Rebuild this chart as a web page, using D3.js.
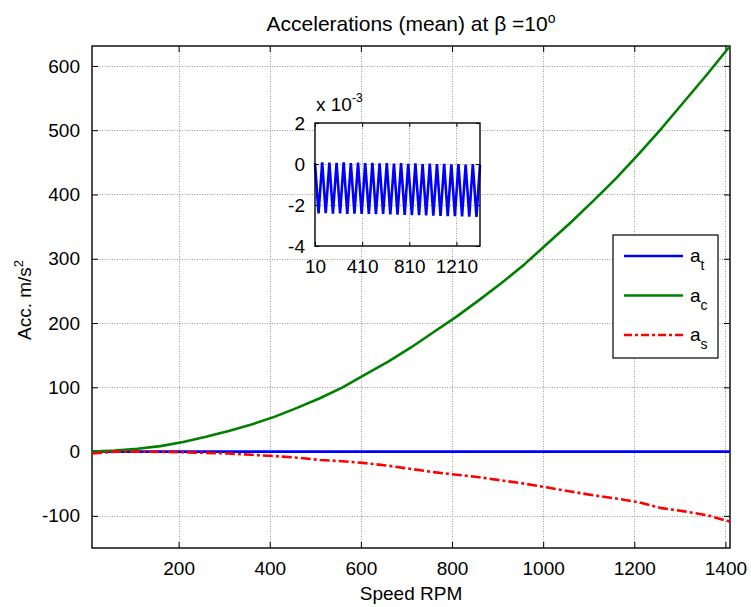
<!DOCTYPE html>
<html><head><meta charset="utf-8">
<script src="https://cdn.jsdelivr.net/npm/d3@7"></script>
<style>
html,body{margin:0;padding:0;background:#fff;}
text{font-family:"Liberation Sans",Arial,Helvetica,sans-serif;fill:#000;}
</style></head>
<body>
<svg id="chart" width="751" height="607"></svg>
<script>
// ---- data ----
const rpm = [10,60,110,160,210,260,310,360,410,460,510,560,610,660,710,760,810,860,910,960,1010,1060,1110,1160,1210,1260,1310,1360,1410];
const aC = [0,1.5,4.5,8.5,15,23,32,42,54,68,83,100,120,140,162,186,210,236,263,292,324,356,390,425,463,503,545,587,631];
const aS = [-3,0,0,-0.5,-1,-2,-3,-5,-7,-9.5,-13,-15,-18,-22,-27,-32,-36,-40,-45,-50,-56,-62,-68,-73,-79,-88,-93,-99,-109];
const insetRpm = [10,40,71,101,132,162,193,223,253,284,314,345,375,406,436,467,497,527,558,588,619,649,680,710,740,771,801,832,862,893,923,953,984,1014,1045,1075,1106,1136,1167,1197,1227,1258,1288,1319,1349,1380,1410];
const aT = [0.00005,-0.00241,0.00008,-0.00240,0.00007,-0.00242,0.00006,-0.00241,0.00008,-0.00243,0.00005,-0.00242,0.00007,-0.00244,0.00004,-0.00243,0.00006,-0.00245,0.00003,-0.00244,0.00005,-0.00246,0.00002,-0.00247,0.00004,-0.00248,0.00001,-0.00249,0.00003,-0.00250,0.00000,-0.00251,0.00002,-0.00252,-0.00001,-0.00253,0.00001,-0.00254,-0.00002,-0.00255,0.00000,-0.00256,-0.00003,-0.00257,-0.00001,-0.00258,-0.00004];
const xTicks = [200,400,600,800,1000,1200,1400];
const yTicks = [-100,0,100,200,300,400,500,600];
const insetXTicks = [10,410,810,1210];
const insetYTicks = [-0.004,-0.002,0,0.002];
const insetYLabels = ["-4","-2","0","2"];
const legendNames = ["t","c","s"];

const svg = d3.select("#chart");
const FS = 19;
const M = {l:92, r:730, t:46, b:548};
const x = d3.scaleLinear().domain([10,1410]).range([M.l, M.r]);
const y = d3.scaleLinear().domain([-150,631]).range([M.b, M.t]);

svg.append("rect").attr("width",751).attr("height",607).attr("fill","#fff");
svg.append("defs").append("clipPath").attr("id","clipMain")
  .append("rect").attr("x",M.l).attr("y",M.t-2).attr("width",M.r-M.l).attr("height",M.b-M.t+2);

// grid
const grid = svg.append("g").attr("stroke","#9a9a9a").attr("stroke-width",1).attr("stroke-dasharray","1,1.5");
xTicks.forEach(v=>grid.append("line").attr("x1",Math.round(x(v))+0.5).attr("x2",Math.round(x(v))+0.5).attr("y1",M.t).attr("y2",M.b));
yTicks.forEach(v=>grid.append("line").attr("y1",Math.round(y(v))+0.5).attr("y2",Math.round(y(v))+0.5).attr("x1",M.l).attr("x2",M.r));

// axes via d3 axis (inner ticks)
const fmt = d=>String(d);
const axB = svg.append("g").attr("transform",`translate(0,${M.b})`)
  .call(d3.axisBottom(x).tickValues(xTicks).tickSize(-6).tickPadding(14).tickFormat(fmt));
const axT = svg.append("g").attr("transform",`translate(0,${M.t})`)
  .call(d3.axisTop(x).tickValues(xTicks).tickSize(-6).tickFormat(""));
const axL = svg.append("g").attr("transform",`translate(${M.l},0)`)
  .call(d3.axisLeft(y).tickValues(yTicks).tickSize(-6).tickPadding(12).tickFormat(fmt));
const axR = svg.append("g").attr("transform",`translate(${M.r},0)`)
  .call(d3.axisRight(y).tickValues(yTicks).tickSize(-6).tickFormat(""));
[axB,axT,axL,axR].forEach(a=>{
  a.select(".domain").remove();
  a.selectAll(".tick line").attr("stroke","#000").attr("stroke-width",1);
  a.selectAll("text").style("font-size",FS+"px").attr("fill","#000");
});
svg.append("rect").attr("x",M.l).attr("y",M.t).attr("width",M.r-M.l).attr("height",M.b-M.t)
  .attr("fill","none").attr("stroke","#000").attr("stroke-width",1.4);

// series
const plotG = svg.append("g").attr("clip-path","url(#clipMain)");
const lineMain = d3.line().x(d=>x(d[0])).y(d=>y(d[1]));
plotG.append("path").datum(insetRpm.map((r,i)=>[r,aT[i]])).attr("d",lineMain)
  .attr("fill","none").attr("stroke","#0000ff").attr("stroke-width",2.6);
plotG.append("path").datum(rpm.map((r,i)=>[r,aC[i]])).attr("d",lineMain)
  .attr("fill","none").attr("stroke","#008000").attr("stroke-width",2.6).attr("stroke-linejoin","round");
plotG.append("path").datum(rpm.map((r,i)=>[r,aS[i]])).attr("d",lineMain)
  .attr("fill","none").attr("stroke","#ff0000").attr("stroke-width",2.6).attr("stroke-dasharray","10,3,3,3");

// titles
const title = svg.append("text").attr("x",(M.l+M.r)/2).attr("y",31).attr("text-anchor","middle").style("font-size","21px");
title.append("tspan").text("Accelerations (mean) at β =10");
title.append("tspan").attr("dy",-8).style("font-size","14px").text("o");
svg.append("text").attr("x",(M.l+M.r)/2).attr("y",600).attr("text-anchor","middle").style("font-size",FS+"px").text("Speed RPM");
const yl = svg.append("text").attr("transform","translate(31,300) rotate(-90)").attr("text-anchor","middle").style("font-size",FS+"px");
yl.append("tspan").text("Acc. m/s");
yl.append("tspan").attr("dy",-8).style("font-size","13px").text("2");

// legend
const lg = svg.append("g");
lg.append("rect").attr("x",613).attr("y",235).attr("width",105).attr("height",123).attr("fill","#fff").attr("stroke","#000").attr("stroke-width",1.2);
const lColors = ["#0000ff","#008000","#ff0000"];
const lDash = [null,null,"8,3,3,3"];
legendNames.forEach((n,i)=>{
  const yy = 256 + i*39.5;
  lg.append("line").attr("x1",624).attr("x2",683).attr("y1",yy).attr("y2",yy)
    .attr("stroke",lColors[i]).attr("stroke-width",2.6).attr("stroke-dasharray",lDash[i]);
  const t = lg.append("text").attr("x",690).attr("y",yy+6).style("font-size",FS+"px");
  t.append("tspan").text("a");
  t.append("tspan").attr("dy",8).style("font-size","14px").text(n);
});

// inset
const I = {l:315, r:480, t:123, b:246};
const xi = d3.scaleLinear().domain([10,1410]).range([I.l, I.r]);
const yi = d3.scaleLinear().domain([-0.004,0.002]).range([I.b, I.t]);
const ins = svg.append("g");
ins.append("rect").attr("x",I.l).attr("y",I.t).attr("width",I.r-I.l).attr("height",I.b-I.t).attr("fill","#fff");
const ig = ins.append("g").attr("stroke","#9a9a9a").attr("stroke-width",1).attr("stroke-dasharray","1,1.5");
insetXTicks.slice(1).forEach(v=>ig.append("line").attr("x1",Math.round(xi(v))+0.5).attr("x2",Math.round(xi(v))+0.5).attr("y1",I.t).attr("y2",I.b));
insetYTicks.slice(1,3).forEach(v=>ig.append("line").attr("y1",Math.round(yi(v))+0.5).attr("y2",Math.round(yi(v))+0.5).attr("x1",I.l).attr("x2",I.r));
const iaB = ins.append("g").attr("transform",`translate(0,${I.b})`)
  .call(d3.axisBottom(xi).tickValues(insetXTicks).tickSize(-4).tickPadding(14).tickFormat(fmt));
const iaT = ins.append("g").attr("transform",`translate(0,${I.t})`)
  .call(d3.axisTop(xi).tickValues(insetXTicks).tickSize(-4).tickFormat(""));
const iaL = ins.append("g").attr("transform",`translate(${I.l},0)`)
  .call(d3.axisLeft(yi).tickValues(insetYTicks).tickSize(-4).tickPadding(10).tickFormat((d,i)=>insetYLabels[i]));
const iaR = ins.append("g").attr("transform",`translate(${I.r},0)`)
  .call(d3.axisRight(yi).tickValues(insetYTicks).tickSize(-4).tickFormat(""));
[iaB,iaT,iaL,iaR].forEach(a=>{
  a.select(".domain").remove();
  a.selectAll(".tick line").attr("stroke","#000").attr("stroke-width",1);
  a.selectAll("text").style("font-size",FS+"px").attr("fill","#000");
});
const lineIn = d3.line().x(d=>xi(d[0])).y(d=>yi(d[1]));
ins.append("path").datum(insetRpm.map((r,i)=>[r,aT[i]])).attr("d",lineIn)
  .attr("fill","none").attr("stroke","#0000ff").attr("stroke-width",2.6);
ins.append("rect").attr("x",I.l).attr("y",I.t).attr("width",I.r-I.l).attr("height",I.b-I.t)
  .attr("fill","none").attr("stroke","#000").attr("stroke-width",1.4);
const ex = ins.append("text").attr("x",316).attr("y",111).style("font-size",FS+"px");
ex.append("tspan").text("x 10");
ex.append("tspan").attr("dy",-9).style("font-size","12px").text("-3");
</script>
</body></html>
